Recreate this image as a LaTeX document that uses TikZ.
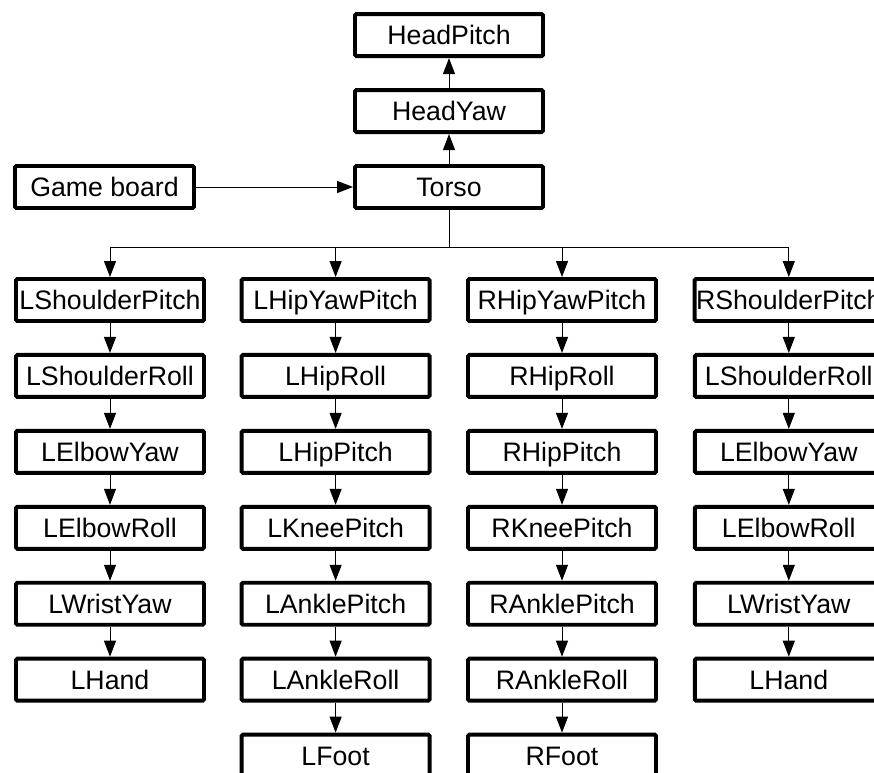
\documentclass[tikz,border=0pt]{standalone}
\usepackage{fontspec}
\setmainfont{Liberation Sans}
\usepackage{tikz}
\usetikzlibrary{arrows.meta,positioning}

\begin{document}
\begin{tikzpicture}[node distance=0.75cm]
\tikzset{joint/.style = {draw,rectangle,rounded corners=1pt,line width=2.8pt,
  minimum width=4.7cm,minimum height=1.05cm,inner xsep=1pt,
  text height=13.6pt,text depth=0pt,font=\fontsize{19}{21}\selectfont}}
\tikzset{link/.style = {line width=0.7pt,-{Triangle[width=0.3cm,length=0.4cm]}}}
\useasboundingbox (0,0) rectangle (21.85,19.3);
\clip (0,0) rectangle (21.85,19.3);
% head and torso
\node[joint] (torso) at (11.225,14.625) {Torso};
\node[joint,above=of torso] (headyaw) {HeadYaw};
\node[joint,above=of headyaw] (headpitch) {HeadPitch};
\node[joint,minimum width=4.475cm] (board) at (2.6125,14.625) {Game board};
% left arm
\node[joint] (lsp) at (2.75,11.8) {LShoulderPitch};
\node[joint,below=of lsp] (lsr) {LShoulderRoll};
\node[joint,below=of lsr] (ley) {LElbowYaw};
\node[joint,below=of ley] (ler) {LElbowRoll};
\node[joint,below=of ler] (lwy) {LWristYaw};
\node[joint,below=of lwy] (lh) {LHand};
% left leg
\node[joint] (lhyp) at (8.39,11.8) {LHipYawPitch};
\node[joint,below=of lhyp] (lhr) {LHipRoll};
\node[joint,below=of lhr] (lhp) {LHipPitch};
\node[joint,below=of lhp] (lkp) {LKneePitch};
\node[joint,below=of lkp] (lap) {LAnklePitch};
\node[joint,below=of lap] (lar) {LAnkleRoll};
\node[joint,below=of lar] (lf) {LFoot};
% right leg
\node[joint] (rhyp) at (14.05,11.8) {RHipYawPitch};
\node[joint,below=of rhyp] (rhr) {RHipRoll};
\node[joint,below=of rhr] (rhp) {RHipPitch};
\node[joint,below=of rhp] (rkp) {RKneePitch};
\node[joint,below=of rkp] (rap) {RAnklePitch};
\node[joint,below=of rap] (rar) {RAnkleRoll};
\node[joint,below=of rar] (rf) {RFoot};
% right arm
\node[joint] (rsp) at (19.72,11.8) {RShoulderPitch};
\node[joint,below=of rsp] (rsr) {LShoulderRoll};
\node[joint,below=of rsr] (rey) {LElbowYaw};
\node[joint,below=of rey] (rer) {LElbowRoll};
\node[joint,below=of rer] (rwy) {LWristYaw};
\node[joint,below=of rwy] (rh) {LHand};
% edges
\draw[link] (board) -- (torso);
\draw[link] (torso) -- (headyaw);
\draw[link] (headyaw) -- (headpitch);
\draw[link] (lsp) -- (lsr);
\draw[link] (lsr) -- (ley);
\draw[link] (ley) -- (ler);
\draw[link] (ler) -- (lwy);
\draw[link] (lwy) -- (lh);
\draw[link] (lhyp) -- (lhr);
\draw[link] (lhr) -- (lhp);
\draw[link] (lhp) -- (lkp);
\draw[link] (lkp) -- (lap);
\draw[link] (lap) -- (lar);
\draw[link] (lar) -- (lf);
\draw[link] (rhyp) -- (rhr);
\draw[link] (rhr) -- (rhp);
\draw[link] (rhp) -- (rkp);
\draw[link] (rkp) -- (rap);
\draw[link] (rap) -- (rar);
\draw[link] (rar) -- (rf);
\draw[link] (rsp) -- (rsr);
\draw[link] (rsr) -- (rey);
\draw[link] (rey) -- (rer);
\draw[link] (rer) -- (rwy);
\draw[link] (rwy) -- (rh);
% fork below the torso
\coordinate (fork) at (11.225,13.125);
\draw[line width=0.7pt] (torso) -- (fork);
\draw[link] (fork) -| (lsp);
\draw[link] (fork) -| (lhyp);
\draw[link] (fork) -| (rhyp);
\draw[link] (fork) -| (rsp);
\end{tikzpicture}
\end{document}
